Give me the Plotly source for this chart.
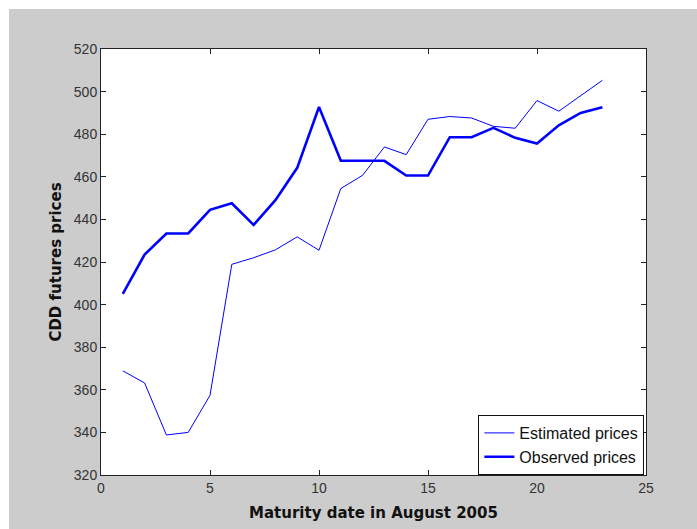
import plotly.graph_objects as go

days = list(range(1, 24))
estimated = [368.9, 363.2, 338.8, 340.0, 357.4, 418.9, 422.0, 425.7, 431.8, 425.5,
             454.5, 460.7, 474.0, 470.4, 487.0, 488.3, 487.6, 483.7, 482.8, 495.8,
             490.8, 498.0, 505.3]
observed = [405.0, 423.5, 433.4, 433.4, 444.5, 447.6, 437.4, 449.0, 464.2, 492.8,
            467.5, 467.5, 467.5, 460.6, 460.6, 478.6, 478.6, 483.0, 478.3, 475.6,
            484.2, 490.0, 492.6]
x_ticks = [0, 5, 10, 15, 20, 25]
y_ticks = [320, 340, 360, 380, 400, 420, 440, 460, 480, 500, 520]

fig = go.Figure()
fig.add_trace(go.Scatter(x=days, y=estimated, mode="lines", name="Estimated prices",
                         line=dict(color="#0000ff", width=1)))
fig.add_trace(go.Scatter(x=days, y=observed, mode="lines", name="Observed prices",
                         line=dict(color="#0000ff", width=2.6)))

axis_common = dict(showline=True, linecolor="#222222", linewidth=1, mirror="ticks",
                   ticks="inside", ticklen=5, tickcolor="#222222", showgrid=False,
                   zeroline=False, tickfont=dict(family="Liberation Sans", size=14, color="#333333"))

title_font = dict(family="DejaVu Sans", size=15, color="#111111")

fig.update_xaxes(range=[0, 25], tickvals=x_ticks, ticktext=[str(v) for v in x_ticks],
                 title=dict(text="<b>Maturity date in August 2005</b>", font=title_font, standoff=12),
                 **axis_common)
fig.update_yaxes(range=[320, 520], tickvals=y_ticks, ticktext=[str(v) for v in y_ticks],
                 title=dict(text="<b>CDD futures prices</b>", font=title_font, standoff=8),
                 **axis_common)

fig.update_layout(
    width=688, height=520,
    margin=dict(l=92, r=51, t=40, b=54),
    paper_bgcolor="#cccccc", plot_bgcolor="#ffffff",
    font=dict(family="Liberation Sans", size=14, color="#111111"),
    legend=dict(x=0.997, y=0.0, xanchor="right", yanchor="bottom",
                bgcolor="#ffffff", bordercolor="#111111", borderwidth=1,
                font=dict(family="Liberation Sans", size=16, color="#111111"),
                tracegroupgap=0, itemwidth=30),
    showlegend=True,
)

fig.write_html("out.html",
               post_script="document.body.style.margin='9px 0 0 9px';document.body.style.overflow='hidden';")
